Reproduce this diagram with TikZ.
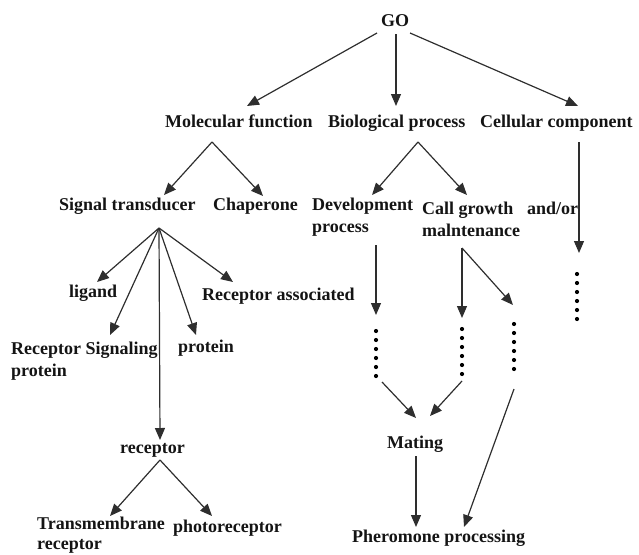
\documentclass[tikz,border=0pt]{standalone}
\usepackage{fontspec}
\setmainfont{Liberation Serif}[BoldFont={Liberation Serif Bold}]
\newfontfamily\lblfont{Liberation Serif Bold}
\usetikzlibrary{arrows.meta}
\begin{document}
\begin{tikzpicture}[x=1pt,y=-1pt,
  lbl/.style={anchor=base west,inner sep=0pt,font=\lblfont\fontsize{18}{22}\selectfont,text=black!92},
  arr/.style={draw=black!82,line width=1.2pt,-{Triangle[length=12pt,width=10pt]}},
  dotc/.style={fill=black}]
\useasboundingbox (0,0) rectangle (639,554);
% labels
\node[lbl] (go) at (381,27) {GO};
\node[lbl] (mf) at (165,127) {Molecular function};
\node[lbl] (bp) at (328,127) {Biological process};
\node[lbl] (cc) at (480,127) {Cellular component};
\node[lbl] (st) at (59,210) {Signal transducer};
\node[lbl] (ch) at (213,210) {Chaperone};
\node[lbl] (dp) at (312,210) {\begin{tabular}[t]{@{}l@{}}Development\\process\end{tabular}};
\node[lbl] (cg) at (422,214) {\begin{tabular}[t]{@{}l@{}}Call growth\\malntenance\end{tabular}};
\node[lbl] (ao) at (527,214) {and/or};
\node[lbl] (lg) at (69,297) {ligand};
\node[lbl] (ra) at (202,300) {Receptor associated};
\node[lbl] (rs) at (11,354) {\begin{tabular}[t]{@{}l@{}}Receptor Signaling\\protein\end{tabular}};
\node[lbl] (pr) at (178,352) {protein};
\node[lbl] (rc) at (120,453) {receptor};
\node[lbl] (tm) at (37,529) {\begin{tabular}[t]{@{}l@{}}Transmembrane\\[-2pt]receptor\end{tabular}};
\node[lbl] (ph) at (173,532) {photoreceptor};
\node[lbl] (mt) at (387,448) {Mating};
\node[lbl] (pp) at (352,542) {Pheromone processing};
% anchor points
\coordinate (goL) at (377,33);
\coordinate (goM) at (396,34);
\coordinate (goR) at (410,33);
\coordinate (mfA) at (212,142);
\coordinate (bpA) at (418,142);
\coordinate (ccA) at (579,142);
\coordinate (stA) at (159,228);
\coordinate (rcA) at (160,460);
\coordinate (dpA) at (376,245);
\coordinate (cgA) at (462,248);
\coordinate (d1) at (382,382);
\coordinate (d2) at (462,381);
\coordinate (d3) at (514,389);
\coordinate (mtA) at (416,456);
% GO
\draw[arr] (goL) -- (247,106);
\draw[arr] (goM) -- (396,106);
\draw[arr] (goR) -- (578,106);
% carets
\draw[arr] (mfA) -- (164,195);
\draw[arr] (mfA) -- (263,196);
\draw[arr] (bpA) -- (372,195);
\draw[arr] (bpA) -- (467,195);
\draw[arr] (ccA) -- (579,253);
% signal transducer fan
\draw[arr] (stA) -- (97,282);
\draw[arr] (stA) -- (110,335);
\draw[arr] (stA) -- (160,440);
\draw[arr] (stA) -- (196,335);
\draw[arr] (stA) -- (233,282);
% receptor
\draw[arr] (rcA) -- (110,516);
\draw[arr] (rcA) -- (212,516);
% biological branches
\draw[arr] (dpA) -- (376,315);
\draw[arr] (cgA) -- (462,318);
\draw[arr] (cgA) -- (513,305);
\draw[arr] (d1) -- (416,418);
\draw[arr] (d2) -- (430,416);
\draw[arr] (mtA) -- (416,527);
\draw[arr] (d3) -- (464,527);
% dotted columns
\foreach \x/\y in {376/331,462/329,514/324,577/274}
  \foreach \k in {0,...,5}
    \fill[dotc] (\x,\y+9*\k) circle (2.1pt);
\end{tikzpicture}
\end{document}
